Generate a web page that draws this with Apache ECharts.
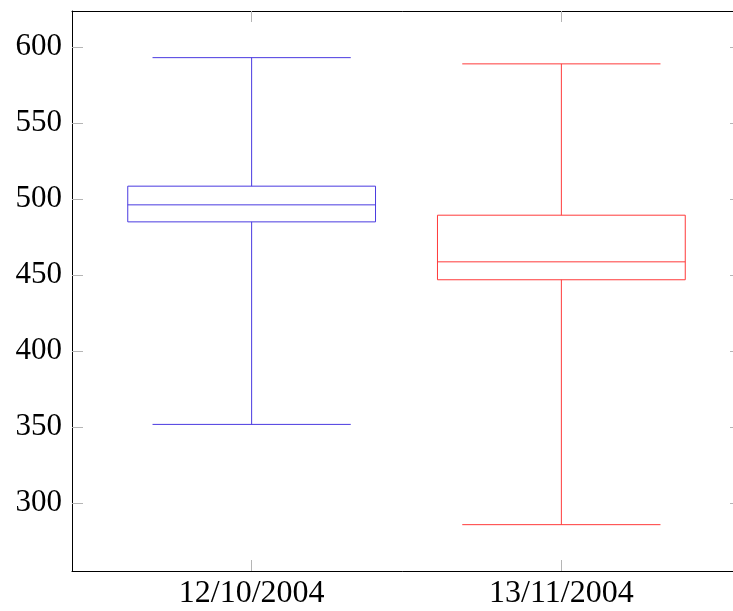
<!DOCTYPE html>
<html>
<head>
<meta charset="utf-8">
<script src="https://cdn.jsdelivr.net/npm/echarts@6/dist/echarts.min.js"></script>
<style>html,body{margin:0;padding:0;background:#fff;}#c{width:733px;height:611px;}</style>
</head>
<body>
<div id="c"></div>
<script>
var categories = ['12/10/2004', '13/11/2004'];
var positions = [1, 2];
var lowerWhisker = [351.8, 285.8];
var q1 = [485.1, 447.0];
var median = [496.3, 458.8];
var q3 = [508.6, 489.5];
var upperWhisker = [593.2, 589.1];
var yTicks = [300, 350, 400, 450, 500, 550, 600];
var colors = ['#4a3ae0', '#ff3a3a'];

var boxData = positions.map(function (p, i) {
  return [p, lowerWhisker[i], q1[i], median[i], q3[i], upperWhisker[i], i];
});

var chart = echarts.init(document.getElementById('c'), null, {renderer: 'canvas'});
var font = 'Liberation Serif';
var tickStyle = {show: true, inside: true, length: 11, lineStyle: {color: '#b5b5b5', width: 1}};
var frame = {show: true, onZero: false, lineStyle: {color: '#000', width: 1}};

chart.setOption({
  animation: false,
  backgroundColor: '#fff',
  grid: {left: 72, top: 11, width: 669, height: 560, containLabel: false, outerBoundsMode: 'none'},
  xAxis: [{
    type: 'value', min: 0.42, max: 2.58, position: 'bottom',
    axisLine: frame,
    axisTick: Object.assign({}, tickStyle, {customValues: positions}),
    axisLabel: {customValues: positions, fontFamily: font, fontSize: 32, color: '#000', margin: 7,
      formatter: function (v) { var i = positions.indexOf(v); return i >= 0 ? categories[i] : ''; }},
    splitLine: {show: false}
  }, {
    type: 'value', min: 0.42, max: 2.58, position: 'top',
    axisLine: frame,
    axisTick: Object.assign({}, tickStyle, {customValues: positions}),
    axisLabel: {show: false}, splitLine: {show: false}
  }],
  yAxis: [{
    type: 'value', min: 255.3, max: 623.9, position: 'left',
    axisLine: frame,
    axisTick: Object.assign({}, tickStyle, {customValues: yTicks}),
    axisLabel: {customValues: yTicks, fontFamily: font, fontSize: 31, color: '#000', margin: 10},
    splitLine: {show: false}
  }, {
    type: 'value', min: 255.3, max: 623.9, position: 'right',
    axisLine: frame,
    axisTick: Object.assign({}, tickStyle, {customValues: yTicks}),
    axisLabel: {show: false}, splitLine: {show: false}
  }],
  series: [{
    type: 'custom',
    xAxisIndex: 0, yAxisIndex: 0,
    data: boxData,
    z: 10,
    renderItem: function (params, api) {
      var x = api.value(0);
      var idx = api.value(6);
      var col = colors[idx];
      var boxHalf = 0.4, capHalf = 0.32;
      function c(xx, yy) { return api.coord([xx, yy]); }
      var lw = api.value(1), a = api.value(2), m = api.value(3), b = api.value(4), uw = api.value(5);
      function st() { return {stroke: col, lineWidth: 1, fill: 'none'}; }
      function seg(x1, y1, x2, y2) {
        return {type: 'polyline', shape: {points: [c(x1, y1), c(x2, y2)]}, style: st()};
      }
      var p1 = c(x - boxHalf, b), p2 = c(x + boxHalf, a);
      return {
        type: 'group',
        children: [
          {type: 'rect', shape: {x: p1[0], y: p1[1], width: p2[0] - p1[0], height: p2[1] - p1[1]}, style: st()},
          seg(x - boxHalf, m, x + boxHalf, m),
          seg(x, b, x, uw),
          seg(x, a, x, lw),
          seg(x - capHalf, uw, x + capHalf, uw),
          seg(x - capHalf, lw, x + capHalf, lw)
        ]
      };
    }
  }]
});
</script>
</body>
</html>
